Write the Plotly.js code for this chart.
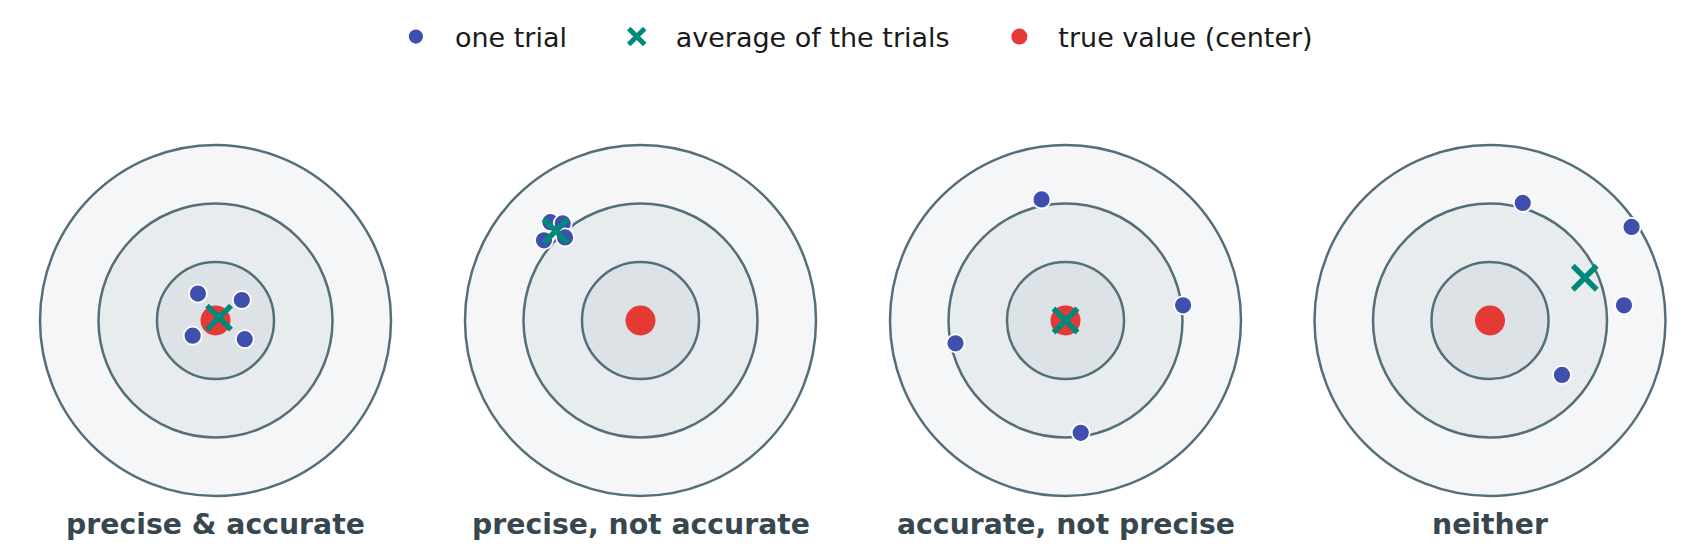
<!DOCTYPE html>
<html><head><meta charset="utf-8">
<script src="https://cdn.plot.ly/plotly-3.0.1.min.js"></script>
<style>html,body{margin:0;padding:0;background:#fff}</style>
</head><body>
<div id="chart" style="width:1705px;height:558px"></div>
<script>
// ---- data (units: radius of inner ring = 1) ----
const panelTitles = ['precise & accurate', 'precise, not accurate', 'accurate, not precise', 'neither'];
const trialX1 = [-0.30, 0.45, -0.39, 0.50];
const trialY1 = [0.46, 0.35, -0.26, -0.32];
const trialX2 = [-1.54, -1.33, -1.65, -1.29];
const trialY2 = [1.68, 1.66, 1.37, 1.42];
const trialX3 = [-0.41, 2.01, -1.88, 0.26];
const trialY3 = [2.07, 0.26, -0.39, -1.92];
const trialX4 = [0.56, 2.42, 2.29, 1.23];
const trialY4 = [2.01, 1.60, 0.26, -0.93];
const avgX = [0.06, -1.45, 0.00, 1.62];
const avgY = [0.05, 1.53, 0.00, 0.73];
const trueX = [0, 0, 0, 0];
const trueY = [0, 0, 0, 0];
const ringRadii = [3, 2, 1];
const legendNames = ['one trial', 'average of the trials', 'true value (center)'];

// ---- styling / layout ----
const W = 1705, H = 558;
const unitPx = 58.5;
const centersPx = [215.5, 640.5, 1065.5, 1490];
const centerYPx = 320.5;
const halfPx = 205;
const ringFills = ['#f4f6f7', '#e8ecef', '#dde2e6'];
const ringLine = '#546e7a';
const FONT = 'DejaVu Sans, sans-serif';
const GAP = '\u00a0\u00a0\u00a0';

const trialsX = [trialX1, trialX2, trialX3, trialX4];
const trialsY = [trialY1, trialY2, trialY3, trialY4];

const traces = [];
const layout = {
  width: W, height: H,
  margin: {l: 0, r: 0, t: 0, b: 0},
  paper_bgcolor: '#ffffff', plot_bgcolor: 'rgba(0,0,0,0)',
  showlegend: true,
  legend: {
    orientation: 'h', x: 0.497, xanchor: 'center', y: 1 - 37 / H, yanchor: 'middle',
    font: {family: FONT, size: 27, color: '#1a1a1a'},
    itemwidth: 68, bgcolor: 'rgba(0,0,0,0)'
  },
  shapes: [], annotations: [],
  font: {family: FONT}
};

const rangeU = halfPx / unitPx;
for (let i = 0; i < 4; i++) {
  const sfx = i === 0 ? '' : String(i + 1);
  const xa = 'xaxis' + sfx, ya = 'yaxis' + sfx;
  const xr = 'x' + sfx, yr = 'y' + sfx;
  const yc = (H - centerYPx) / H;
  layout[xa] = {domain: [(centersPx[i] - halfPx) / W, (centersPx[i] + halfPx) / W],
    range: [-rangeU, rangeU], visible: false, fixedrange: true, anchor: yr};
  layout[ya] = {domain: [yc - halfPx / H, yc + halfPx / H],
    range: [-rangeU, rangeU], visible: false, fixedrange: true, anchor: xr};
  ringRadii.forEach((r, k) => {
    layout.shapes.push({type: 'circle', xref: xr, yref: yr, x0: -r, x1: r, y0: -r, y1: r,
      fillcolor: ringFills[k], line: {color: ringLine, width: 2.5}, layer: 'below'});
  });
  layout.annotations.push({xref: xr, yref: 'paper', x: 0, y: (H - 524) / H, yanchor: 'middle',
    text: '<b>' + panelTitles[i].replace('&', '&amp;') + '</b>', showarrow: false,
    font: {family: FONT, size: 28.3, color: '#37474f'}});

  traces.push({type: 'scatter', mode: 'markers', xaxis: xr, yaxis: yr,
    x: [trueX[i]], y: [trueY[i]], name: legendNames[2], legendgroup: 'true', legendrank: 3,
    showlegend: i === 0, hoverinfo: 'skip',
    marker: {color: '#e53935', size: 30, line: {width: 0}}});
  traces.push({type: 'scatter', mode: 'markers', xaxis: xr, yaxis: yr,
    x: trialsX[i], y: trialsY[i], name: legendNames[0] + GAP, legendgroup: 'trial', legendrank: 1,
    showlegend: i === 0, hoverinfo: 'skip',
    marker: {color: '#3f4fae', size: 18, line: {color: '#ffffff', width: 1.8}}});
  traces.push({type: 'scatter', mode: 'markers', xaxis: xr, yaxis: yr,
    x: [avgX[i]], y: [avgY[i]], name: legendNames[1] + GAP, legendgroup: 'avg', legendrank: 2,
    showlegend: i === 0, hoverinfo: 'skip',
    marker: {symbol: 'x-thin', color: '#00897b', size: 24, line: {color: '#00897b', width: 5.5}}});
}

Plotly.newPlot('chart', traces, layout, {displayModeBar: false, staticPlot: true});
</script>
</body></html>
